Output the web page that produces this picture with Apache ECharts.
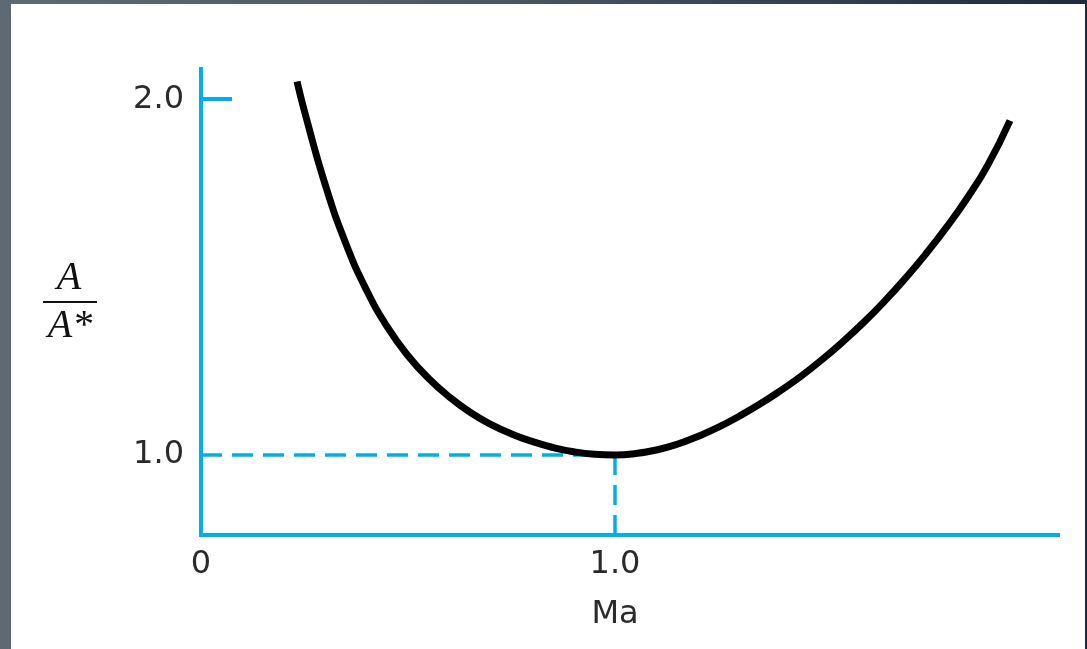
<!DOCTYPE html>
<html>
<head>
<meta charset="utf-8">
<script src="https://cdn.jsdelivr.net/npm/echarts@6/dist/echarts.min.js"></script>
<style>
  html, body { margin: 0; padding: 0; }
  body {
    width: 1087px; height: 649px; overflow: hidden; position: relative;
    background: linear-gradient(90deg, #5e6a73 0%, #4a5864 45%, #1d2b3c 100%);
  }
  #frame {
    position: absolute; left: 11px; top: 4px; width: 1074px; height: 645px;
    background: #ffffff;
  }
  #main { width: 1074px; height: 645px; }
</style>
</head>
<body>
<div id="frame"><div id="main"></div></div>
<script>
// Area ratio A/A* against Mach number (schematic curve, minimum at Ma = 1)
const machValues = [0.232, 0.25, 0.30, 0.35, 0.40, 0.45, 0.50, 0.55, 0.60, 0.65, 0.70,
                    0.75, 0.80, 0.85, 0.90, 0.95, 1.00, 1.05, 1.10, 1.15, 1.20, 1.25,
                    1.30, 1.35, 1.40, 1.45, 1.50, 1.55, 1.60, 1.65, 1.70, 1.75, 1.80,
                    1.85, 1.90, 1.954];
const areaRatio  = [2.050, 1.966, 1.760, 1.594, 1.463, 1.360, 1.279, 1.215, 1.163, 1.120, 1.086,
                    1.059, 1.038, 1.021, 1.009, 1.002, 1.000, 1.004, 1.014, 1.030, 1.052, 1.078,
                    1.109, 1.143, 1.181, 1.222, 1.268, 1.318, 1.372, 1.431, 1.495, 1.564, 1.639,
                    1.721, 1.814, 1.940];

// Sonic point guide lines
const sonicMach = 1.0;
const sonicRatio = 1.0;

// Axis ranges and tick labels
const xRange = [0, 2.07];
const yRange = [0.775, 2.085];
const xTickValues = [0, 1];
const xTickLabels = ['0', '1.0'];
const yTickValues = [1, 2];
const yTickLabels = ['1.0', '2.0'];
const yTickMarks = [2];

const xTitle = 'Ma';
const yTitleTop = 'A';
const yTitleBottom = 'A*';

const cyan = '#00aeef';
const ink = '#2a2a2a';
const labelFont = 'DejaVu Sans';

const curve = machValues.map((m, i) => [m, areaRatio[i]]);

const chart = echarts.init(document.getElementById('main'), null, { renderer: 'canvas' });

chart.setOption({
  animation: false,
  backgroundColor: '#ffffff',
  grid: { left: 190, right: 27, top: 65, bottom: 114 },
  xAxis: {
    type: 'value',
    min: xRange[0],
    max: xRange[1],
    splitLine: { show: false },
    axisTick: { show: false },
    axisLine: { onZero: false, lineStyle: { color: cyan, width: 4, cap: 'square' } },
    axisLabel: {
      customValues: xTickValues,
      formatter: v => xTickLabels[xTickValues.indexOf(v)],
      color: ink, fontFamily: labelFont, fontSize: 32, margin: 14
    }
  },
  yAxis: {
    type: 'value',
    min: yRange[0],
    max: yRange[1],
    splitLine: { show: false },
    axisLine: { onZero: false, lineStyle: { color: cyan, width: 4, cap: 'square' } },
    axisTick: {
      customValues: yTickMarks,
      inside: true, length: 31,
      lineStyle: { color: cyan, width: 4 }
    },
    axisLabel: {
      customValues: yTickValues,
      formatter: v => yTickLabels[yTickValues.indexOf(v)],
      color: ink, fontFamily: labelFont, fontSize: 32, margin: 17
    }
  },
  series: [
    {
      name: 'guide-h',
      type: 'line',
      data: [[0, sonicRatio], [sonicMach, sonicRatio]],
      showSymbol: false,
      silent: true,
      lineStyle: { color: cyan, width: 3.5, type: [21, 10] }
    },
    {
      name: 'guide-v',
      type: 'line',
      data: [[sonicMach, sonicRatio], [sonicMach, yRange[0]]],
      showSymbol: false,
      silent: true,
      lineStyle: { color: cyan, width: 3.5, type: [20, 10] }
    },
    {
      name: 'A/A*',
      type: 'line',
      data: curve,
      smooth: 0.5,
      showSymbol: false,
      lineStyle: { color: '#000000', width: 7, cap: 'butt' },
      z: 5
    }
  ]
});

// Axis titles: "Ma" under the 1.0 tick, A/A* fraction beside the y axis
const maX = chart.convertToPixel({ xAxisIndex: 0 }, sonicMach);
const serif = 'italic 40px "Liberation Serif", "Times New Roman", serif';
chart.setOption({
  graphic: [
    {
      type: 'text', x: maX, y: 611,
      style: { text: xTitle, font: '32px "DejaVu Sans"', fill: ink, align: 'center', verticalAlign: 'middle' }
    },
    {
      type: 'text', x: 58, y: 274,
      style: { text: yTitleTop, font: serif, fill: '#111', align: 'center', verticalAlign: 'middle' }
    },
    {
      type: 'line',
      shape: { x1: 32, y1: 298, x2: 86, y2: 298 },
      style: { stroke: '#111', lineWidth: 2 }
    },
    {
      type: 'text', x: 59, y: 322,
      style: { text: yTitleBottom, font: serif, fill: '#111', align: 'center', verticalAlign: 'middle' }
    }
  ]
});
</script>
</body>
</html>
